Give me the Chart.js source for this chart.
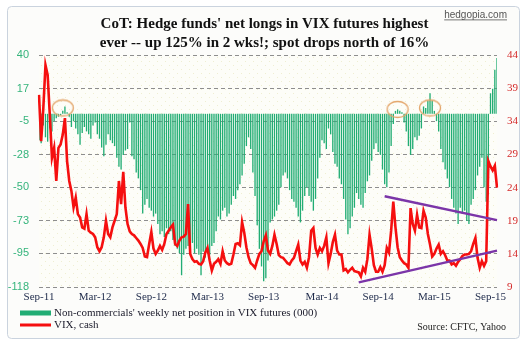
<!DOCTYPE html>
<html>
<head>
<meta charset="utf-8">
<script src="https://cdn.jsdelivr.net/npm/chart.js@4.4.1/dist/chart.umd.min.js"></script>
<style>
    html, body { margin: 0; padding: 0; background: #ffffff; }
    #wrap { width: 529px; height: 344px; }
</style>
</head>
<body>
<div id="wrap"><canvas id="myChart" width="529" height="344"></canvas></div>
<script>
// weekly CoT net position of non-commercials in VIX futures (000 contracts), Sep-11 .. Sep-15
const netPos = [
    -18, -20, -8, -16, -19, -10, -12, -5, -3, -2,
    -1, 2, 5, 1, -2, -9, -5, -10, -14, -21,
    -13, -9, -12, -14, -17, -8, -6, -14, -17, -23,
    -29, -21, -14, -18, -20, -22, -30, -36, -38, -28,
    -25, -24, -6, -29, -31, -40, -44, -52, -68, -62,
    -58, -64, -66, -70, -68, -75, -82, -80, -84, -78,
    -82, -80, -86, -90, -92, -95, -110, -96, -92, -90,
    -92, -88, -95, -92, -96, -110, -94, -98, -92, -96,
    -90, -88, -80, -70, -72, -66, -64, -70, -68, -62,
    -56, -58, -52, -48, -42, -34, -22, -16, -24, -40,
    -56, -76, -92, -104, -114, -112, -100, -74, -72, -70,
    -66, -62, -50, -42, -40, -44, -52, -58, -60, -64,
    -70, -74, -66, -56, -50, -56, -60, -66, -58, -44,
    -30, -18, -20, -24, -10, -14, -26, -34, -36, -44,
    -48, -58, -72, -82, -78, -70, -64, -54, -58, -62,
    -64, -54, -46, -42, -32, -24, -20, -26, -28, -38,
    -48, -50, -40, -22, -7, 2, 3, 2, 1, -6,
    -12, -22, -28, -24, -16, -18, -15, -10, 5, 4,
    9, 14, 9, 2, -5, -12, -24, -33, -38, -44,
    -50, -58, -64, -68, -75, -64, -68, -66, -73, -75,
    -62, -58, -52, -42, -36, -30, -50, -60, -55, 14,
    17, 30, 38
];

// VIX, cash (weekly)
const vix = [
    38, 31, 36, 42.5, 41, 35, 28.5, 30, 25, 30,
    30.5, 32, 34.5, 28, 25, 23.5, 21, 22.5, 20, 19.5,
    18, 17.8, 20, 17.5, 17.2, 17, 16.5, 15, 14.4, 15,
    16.5, 19, 17, 16.5, 18, 19, 20, 25, 21.5, 26.4,
    21, 18.5, 17.4, 17, 16.8, 16.4, 16, 15.5, 14.9, 13.6,
    13.5, 15.5, 17.3, 14.8, 14, 14.5, 15.2, 14.6, 15.5, 17,
    17.5, 18, 18.4, 15.5, 15.2, 16, 16.5, 16.6, 17, 21.5,
    14, 13.2, 12.8, 12.9, 12.5, 12.4, 12.9, 14.2, 14.9, 13,
    11.5, 12.5, 12.8, 13.2, 12.5, 14.4, 13, 12.6, 12.4, 12.5,
    13.9, 15.5, 15.6, 15.3, 18.8, 17.2, 15, 13.5, 12.6, 12.3,
    11.9, 13, 14, 14.4, 15.9, 16.8, 14.5, 14, 15.2, 16.9,
    15.5, 13.8, 13.5, 13.4, 13, 12.6, 12.4, 13, 13.4, 14.4,
    15.4, 13, 12.4, 12.8, 11.9, 13.5, 17.5, 17.9, 14.9, 13.9,
    14.9, 14.4, 15.2, 16.5, 12.6, 14, 15.8, 16.9, 14.5, 13.9,
    13.9, 11.5, 11.7, 11.2, 11.6, 11.9, 11.4, 11.3, 11.2, 10.6,
    11.9, 11.3, 13.2, 16.9, 14.8, 12.3, 11.3, 11.3, 12, 11.3,
    12.3, 14.9, 14.2, 17.5, 21.9, 18, 15, 13.5, 13, 12.6,
    12.4, 11.9, 20.9, 18.5, 17.5, 19.9, 18, 17.9, 20.5, 19.5,
    17, 15.4, 13.6, 14, 14.8, 15.4, 14, 14.4, 13.8, 13,
    13, 12.4, 12.6, 12.2, 12.8, 13.2, 13.7, 13.9, 13.9, 14,
    14.4, 15.5, 16.4, 13.4, 11.9, 12.9, 12.2, 12.9, 28, 27.2,
    26.6, 27.3, 24
];

// x-axis tick labels and the week each one falls on
const tickLabels = ['Sep-11', 'Mar-12', 'Sep-12', 'Mar-13', 'Sep-13', 'Mar-14', 'Sep-14', 'Mar-15', 'Sep-15'];
const tickWeeks = [0, 26, 52, 78, 104, 131, 157, 183, 209];

// left and right axis tick values
const leftTicks = [40, 17, -5, -28, -50, -73, -95, -118];
const rightTicks = [44, 39, 34, 29, 24, 19, 14, 9];

// hand-drawn annotations: VIX trend lines [week, vix] and circled weeks [week, net position]
const upperTrend = [[160, 22.7], [212, 19.1]];
const lowerTrend = [[148, 9.7], [212, 14.5]];
const circled = [[11, 4], [166, 3], [181, 4]];

const barGreen = '#22ad74';
const vixRed = '#f50f0f';
const trendPurple = '#7b35a8';

const categories = netPos.map(function (v, i) {
    let k = tickWeeks.indexOf(i);
    return k >= 0 ? tickLabels[k] : '';
});

function sparse(pairs) {
    let arr = new Array(netPos.length).fill(null);
    pairs.forEach(function (p) { arr[p[0]] = p[1]; });
    return arr;
}

// orange ellipse used as point style for the circled spots
const ring = document.createElement('canvas');
ring.width = 24; ring.height = 19;
(function () {
    let c = ring.getContext('2d');
    c.strokeStyle = '#e3a468';
    c.lineWidth = 1.3;
    c.beginPath();
    c.ellipse(12, 9.5, 10.5, 8, 0, 0, Math.PI * 2);
    c.stroke();
})();

// faint dotted fill of the plot area
const dots = document.createElement('canvas');
dots.width = 8; dots.height = 8;
(function () {
    let c = dots.getContext('2d');
    c.fillStyle = '#fdfdf8';
    c.fillRect(0, 0, 8, 8);
    c.fillStyle = '#efeed2';
    c.fillRect(1, 1, 1, 1);
    c.fillRect(5, 5, 1, 1);
})();

const PAD = 4, AREA_LEFT = 39, AREA_RIGHT = 497, AREA_BOTTOM = 287;

const panel = {
    id: 'panel',
    beforeDraw(chart) {
        const c = chart.ctx, a = chart.chartArea;
        c.save();
        c.fillStyle = '#ffffff';
        c.fillRect(0, 0, chart.width, chart.height);
        c.beginPath();
        c.roundRect(7.5, 6.5, 512, 332, 4);
        c.fillStyle = '#fcfcfa';
        c.fill();
        c.strokeStyle = '#cad3de';
        c.lineWidth = 1;
        c.stroke();
        c.fillStyle = c.createPattern(dots, 'repeat');
        c.fillRect(a.left, a.top, a.right - a.left, a.bottom - a.top);
        c.restore();
    },
    afterDraw(chart) {
        const c = chart.ctx, ds = chart.data.datasets;
        c.save();
        // site tag
        c.font = '10px "Liberation Sans"';
        c.fillStyle = '#555555';
        c.textAlign = 'right';
        c.textBaseline = 'alphabetic';
        c.fillText('hedgopia.com', 507, 18);
        let w = c.measureText('hedgopia.com').width;
        c.fillRect(507 - w, 19.5, w, 0.8);
        // source
        c.font = '10px "Liberation Serif"';
        c.fillStyle = '#222222';
        c.fillText('Source: CFTC, Yahoo', 506, 330);
        // legend, two stacked rows
        c.textAlign = 'left';
        c.textBaseline = 'middle';
        c.font = '11px "Liberation Serif"';
        c.fillStyle = barGreen;
        c.fillRect(20, 310.5, 31, 5);
        c.fillStyle = vixRed;
        c.fillRect(20, 323.5, 31, 3);
        c.fillStyle = '#1b1b2b';
        c.fillText(ds[0].label, 54, 313);
        c.fillText(ds[1].label, 54, 325);
        c.restore();
    }
};

const ctx = document.getElementById('myChart').getContext('2d');

new Chart(ctx, {
    type: 'bar',
    data: {
        labels: categories,
        datasets: [
            {
                label: "Non-commercials' weekly net position in VIX futures (000)",
                data: netPos,
                backgroundColor: barGreen,
                yAxisID: 'y',
                barPercentage: 0.62,
                categoryPercentage: 1,
                order: 5
            },
            {
                type: 'line',
                label: 'VIX, cash',
                data: vix,
                borderColor: vixRed,
                backgroundColor: vixRed,
                borderWidth: 2.6,
                pointRadius: 0,
                tension: 0,
                yAxisID: 'y1',
                order: 2
            },
            {
                type: 'line',
                label: 'upper trend',
                data: sparse(upperTrend),
                borderColor: trendPurple,
                borderWidth: 2.4,
                pointRadius: 0,
                spanGaps: true,
                yAxisID: 'y1',
                order: 1
            },
            {
                type: 'line',
                label: 'lower trend',
                data: sparse(lowerTrend),
                borderColor: trendPurple,
                borderWidth: 2.4,
                pointRadius: 0,
                spanGaps: true,
                yAxisID: 'y1',
                order: 1
            },
            {
                type: 'line',
                label: 'circled',
                data: sparse(circled),
                showLine: false,
                pointStyle: ring,
                pointRadius: 8,
                yAxisID: 'y',
                order: 3
            }
        ]
    },
    options: {
        responsive: false,
        animation: false,
        events: [],
        layout: { padding: { left: PAD, right: PAD, top: 0, bottom: 344 - AREA_BOTTOM - 20 } },
        plugins: {
            title: {
                display: true,
                text: ["CoT: Hedge funds' net longs in VIX futures highest",
                       "ever -- up 125% in 2 wks!; spot drops north of 16%"],
                color: '#111111',
                font: { family: 'Liberation Serif', size: 15, weight: 'bold', lineHeight: 1.27 },
                padding: { top: 15, bottom: 2 }
            },
            legend: { display: false },
            tooltip: { enabled: false }
        },
        scales: {
            x: {
                type: 'category',
                offset: false,
                grid: { display: false, drawTicks: false },
                border: { display: false },
                ticks: {
                    autoSkip: false,
                    maxRotation: 0,
                    padding: 4,
                    color: '#1e2a4a',
                    font: { family: 'Liberation Serif', size: 11 },
                    callback: function (v, i) { return categories[i]; }
                },
                afterFit: function (scale) { scale.height = 20; }
            },
            y: {
                position: 'left',
                min: -118,
                max: 40,
                afterBuildTicks: function (scale) {
                    scale.ticks = leftTicks.map(function (v) { return { value: v }; });
                },
                grid: { color: '#8e8e8e', drawTicks: false, lineWidth: 1 },
                border: { display: false, dash: [4, 3] },
                ticks: {
                    padding: 10,
                    color: '#35b47c',
                    font: { family: 'Liberation Sans', size: 11 }
                },
                afterFit: function (scale) { scale.width = AREA_LEFT - PAD; }
            },
            y1: {
                position: 'right',
                min: 9,
                max: 44,
                afterBuildTicks: function (scale) {
                    scale.ticks = rightTicks.map(function (v) { return { value: v }; });
                },
                grid: { display: false, drawTicks: false },
                border: { display: false },
                ticks: {
                    padding: 10,
                    color: '#d42a2a',
                    font: { family: 'Liberation Serif', size: 11 }
                },
                afterFit: function (scale) { scale.width = 529 - PAD - AREA_RIGHT; }
            }
        }
    },
    plugins: [panel]
});
</script>
</body>
</html>
